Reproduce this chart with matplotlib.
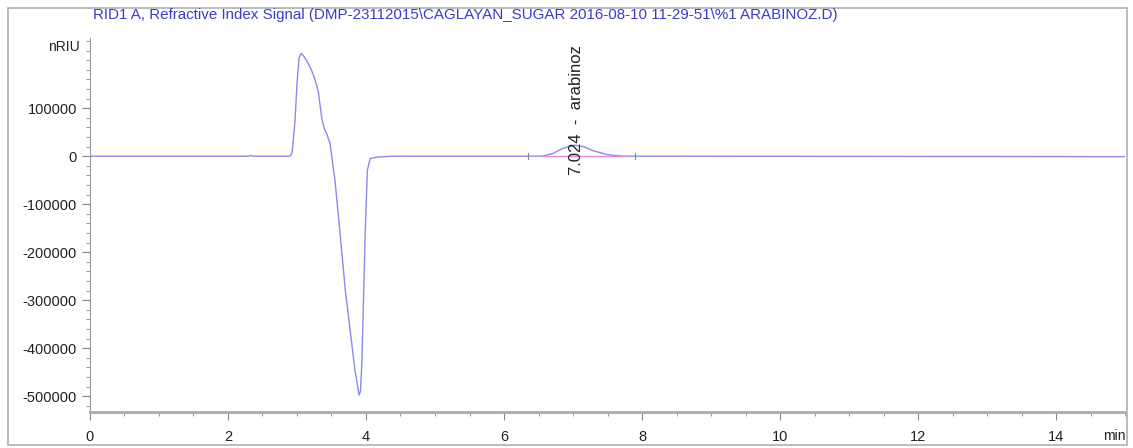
import numpy as np
import matplotlib
matplotlib.use("Agg")
import matplotlib.pyplot as plt
from matplotlib.ticker import MultipleLocator, FixedLocator
from matplotlib.patches import Rectangle

plt.rcParams['font.family'] = ['Liberation Sans', 'DejaVu Sans']
plt.rcParams['axes.unicode_minus'] = False

######################## DATA ########################
# retention time (min) and signal (nRIU)
t_min = [0.0, 2.30, 2.33, 2.36, 2.90, 2.93, 2.97, 3.00, 3.03, 3.06, 3.10, 3.16, 3.21,
         3.26, 3.31, 3.34, 3.36, 3.40, 3.43, 3.48, 3.55, 3.62, 3.70, 3.77, 3.84,
         3.88, 3.90, 3.92, 3.94, 3.99, 4.02, 4.06, 4.16, 4.40, 6.55, 6.70,
         6.85, 7.02, 7.15, 7.30, 7.50, 7.72, 7.90, 15.0]
signal = [0, 0, 1500, 0, 0, 8000, 70000, 150000, 205000, 214000, 208000, 194000, 179000,
          160000, 134000, 100000, 78500, 55000, 47000, 26000, -50000, -154000, -279000,
          -362000, -446000, -480000, -498000, -490000, -432000, -154000, -29000,
          -5000, -2000, 0, 0, 5000, 16000, 23000, 20000, 11000, 3000, 0, 0, -1000]

y_ticks = [-500000, -400000, -300000, -200000, -100000, 0, 100000]

peak_rt = 7.024
peak_name = "arabinoz"
base_start, base_end = 6.35, 7.90

title = ("RID1 A, Refractive Index Signal (DMP-23112015\\CAGLAYAN_SUGAR "
         "2016-08-10 11-29-51\\%1 ARABINOZ.D)")

######################## PLOT ########################
fig = plt.figure(figsize=(11.33, 4.48), dpi=100)
fig.patches.append(Rectangle((0.007, 0.006), 0.988, 0.976, transform=fig.transFigure,
                             fill=False, edgecolor='#b0b0b0', linewidth=1.2))
ax = fig.add_axes([0.0794, 0.0804, 0.9136, 0.8346])

ax.plot(t_min, signal, color='#8a8aee', linewidth=1.0)
# integration baseline
ax.plot([6.55, 7.75], [0, 0], color='#ee88d8', linewidth=1.0)
for xb in (base_start, base_end):
    ax.plot([xb, xb], [-6000, 6000], color='#888888', linewidth=0.8)

ax.text(peak_rt + 0.02, -40000, "%.3f  -  %s" % (peak_rt, peak_name), rotation=90,
        ha='center', va='bottom', fontsize=12, color='#222222')

ax.set_xlim(0, 15.0)
ax.set_ylim(-533000, 246000)
ax.xaxis.set_major_locator(MultipleLocator(2))
ax.xaxis.set_minor_locator(MultipleLocator(0.5))
ax.yaxis.set_major_locator(FixedLocator(y_ticks))
ax.yaxis.set_minor_locator(MultipleLocator(20000))
ax.tick_params(axis='both', which='major', length=6, color='#888888', labelsize=10.5,
               labelcolor='#222222')
ax.tick_params(axis='both', which='minor', length=3, color='#888888')
ax.tick_params(axis='x', pad=7)

for s in ('top', 'right'):
    ax.spines[s].set_visible(False)
ax.spines['left'].set_color('#999999')
ax.spines['bottom'].set_color('#aaaaaa')
ax.spines['bottom'].set_linewidth(2.0)

fig.text(93 / 1133, 1 - 15 / 448, title, color='#3a3ad0', fontsize=10.9,
         ha='left', va='center')
fig.text(80 / 1133, 1 - 47 / 448, "nRIU", fontsize=10, ha='right', va='center',
         color='#222222')
fig.text(1103 / 1133, 1 - 436 / 448, "min", fontsize=10, ha='left', va='center',
         color='#222222')

plt.savefig("out.png", dpi=100)
